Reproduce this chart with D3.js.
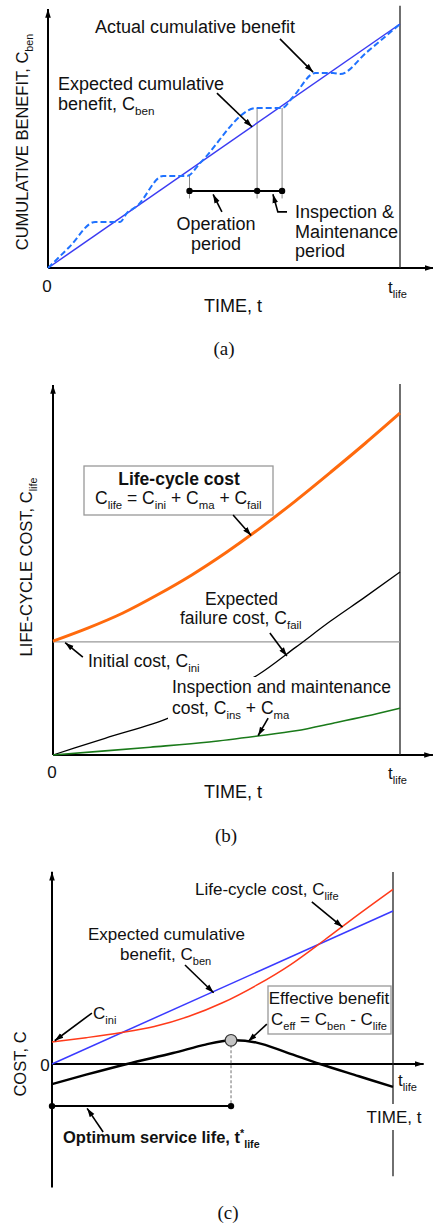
<!DOCTYPE html>
<meta charset="utf-8">
<head>
    <title>Life-cycle cost and benefit</title>
</head>
<style>
    body { margin: 0; background: #fff; }
    svg text { font-family: "Liberation Sans", Arial, sans-serif; fill: #111; }
    .axis { stroke: #000; stroke-width: 2; fill: none; }
    .tlife { stroke: #222; stroke-width: 1.3; }
    .box { fill: #fff; stroke: #999; stroke-width: 1.3; }
    .arrow { stroke: #000; stroke-width: 1.6; fill: none; }
</style>
<script src="https://d3js.org/d3.v7.min.js"></script>
<div id="chart"></div>
<script>
    // ---- panel (a): cumulative benefit ----
    var expT_a = [0, 1];
    var expV_a = [0, 1];
    var actT_a = [0, 0.06, 0.134, 0.205, 0.224, 0.253, 0.327, 0.395, 0.432, 0.594, 0.665, 0.696, 0.759, 0.81, 0.83, 0.906, 1];
    var actV_a = [0, 0.085, 0.189, 0.189, 0.225, 0.254, 0.377, 0.377, 0.430, 0.656, 0.656, 0.701, 0.799, 0.799, 0.795, 0.885, 1];
    // operation period end of plateau 2 -> start of plateau 3, I&M = plateau 3
    var periodT_a = [0.402, 0.594, 0.665];

    // ---- panel (b): life-cycle cost ----
    var lifeT_b = [0, 0.1, 0.2, 0.3, 0.4, 0.5, 0.6, 0.7, 0.8, 0.9, 1];
    var lifeV_b = [0.306, 0.341, 0.381, 0.430, 0.484, 0.545, 0.612, 0.684, 0.760, 0.838, 0.919];
    var failT_b = [0, 0.15, 0.34, 0.46, 0.59, 0.7, 0.8, 0.9, 1];
    var failV_b = [0, 0.045, 0.102, 0.155, 0.215, 0.29, 0.36, 0.425, 0.492];
    var insT_b = [0, 0.15, 0.28, 0.45, 0.59, 0.7, 0.81, 0.9, 1];
    var insV_b = [0, 0.011, 0.021, 0.035, 0.051, 0.065, 0.086, 0.104, 0.126];
    var iniV_b = 0.304;

    // ---- panel (c): effective benefit ----
    var benT_c = [0, 1];
    var benV_c = [0, 1];
    var lifeT_c = [0, 0.1, 0.2, 0.3, 0.4, 0.5, 0.6, 0.7, 0.8, 0.9, 1];
    var lifeV_c = [0.144, 0.172, 0.204, 0.245, 0.31, 0.40, 0.515, 0.65, 0.812, 0.98, 1.142];
    var effT_c = [0, 0.1, 0.22, 0.355, 0.45, 0.525, 0.6, 0.689, 0.786, 0.9, 1];
    var effV_c = [-0.131, -0.07, 0, 0.072, 0.127, 0.155, 0.14, 0.075, 0, -0.08, -0.15];
    var optT_c = 0.525;
    var optV_c = 0.155;

    var svg = d3.select("#chart").append("svg")
        .attr("width", 433)
        .attr("height", 1224);

    // arrowhead marker
    svg.append("defs").append("marker")
        .attr("id", "head")
        .attr("markerUnits", "userSpaceOnUse")
        .attr("viewBox", "0 -4 10 8")
        .attr("refX", 10).attr("refY", 0)
        .attr("markerWidth", 9).attr("markerHeight", 7)
        .attr("orient", "auto")
        .append("path").attr("d", "M0,-3.2L10,0L0,3.2Z").attr("fill", "#000");

    function zip(ts, vs) { return ts.map(function (t, i) { return [t, vs[i]]; }); }

    // text with sub / superscripts: parts are strings or [text, "sub"|"sup"]
    function rich(g, x, y, parts, size, anchor, weight) {
        var t = g.append("text")
            .attr("x", x).attr("y", y)
            .attr("font-size", size)
            .attr("text-anchor", anchor || "start")
            .attr("font-weight", weight || "normal");
        var cur = 0;
        parts.forEach(function (p) {
            var kind = Array.isArray(p) ? p[1] : null;
            var txt = Array.isArray(p) ? p[0] : p;
            var target = kind == "sub" ? size * 0.28 : (kind == "sup" ? -size * 0.35 : 0);
            var ts = t.append("tspan").text(txt);
            if (kind) ts.attr("font-size", size * 0.65);
            if (target != cur) { ts.attr("dy", target - cur); cur = target; }
        });
        return t;
    }

    function arrow(g, x, y, pts) {
        g.append("path")
            .attr("class", "arrow")
            .attr("d", d3.line().x(function (d) { return x(d[0]); }).y(function (d) { return y(d[1]); })(pts))
            .attr("marker-end", "url(#head)");
    }

    function frame(g, x, y, yTop, yBottom, xEnd, lifeTop, lifeBottom) {
        // y axis with arrow
        g.append("line").attr("class", "axis")
            .attr("x1", x(0)).attr("x2", x(0))
            .attr("y1", y(yBottom)).attr("y2", y(yTop) + 2)
            .attr("marker-end", "url(#head)");
        // x axis with arrow
        g.append("line").attr("class", "axis")
            .attr("x1", x(0)).attr("x2", x(xEnd))
            .attr("y1", y(0)).attr("y2", y(0))
            .attr("marker-end", "url(#head)");
        // t_life line
        g.append("line").attr("class", "tlife")
            .attr("x1", x(1)).attr("x2", x(1))
            .attr("y1", y(lifeTop)).attr("y2", y(lifeBottom));
    }

    // ================= (a) =================
    var xA = d3.scaleLinear().domain([0, 1]).range([48, 400]);
    var yA = d3.scaleLinear().domain([0, 1]).range([268, 24]);
    var gA = svg.append("g");
    var lineA = d3.line().x(function (d) { return xA(d[0]); }).y(function (d) { return yA(d[1]); });

    frame(gA, xA, yA, 1.07, 0, 1.095, 1.075, 0);

    // operation / I&M period guides
    var brV = 0.316;
    periodT_a.forEach(function (t, i) {
        var top = i == 0 ? 0.377 : 0.656;
        gA.append("line").attr("stroke", "#888").attr("stroke-width", 1)
            .attr("x1", xA(t)).attr("x2", xA(t))
            .attr("y1", yA(top)).attr("y2", yA(0.285));
    });
    gA.append("line").attr("stroke", "#000").attr("stroke-width", 2)
        .attr("x1", xA(periodT_a[0])).attr("x2", xA(periodT_a[2]))
        .attr("y1", yA(brV)).attr("y2", yA(brV));
    gA.selectAll(".dotA").data(periodT_a).enter().append("circle")
        .attr("cx", function (d) { return xA(d); })
        .attr("cy", yA(brV)).attr("r", 3.2).attr("fill", "#000");

    gA.append("path").datum(zip(expT_a, expV_a))
        .attr("d", lineA).attr("fill", "none")
        .attr("stroke", "#3b3bf2").attr("stroke-width", 1.5);
    gA.append("path").datum(zip(actT_a, actV_a))
        .attr("d", lineA.curve(d3.curveMonotoneX)).attr("fill", "none")
        .attr("stroke", "#1f72ff").attr("stroke-width", 2)
        .attr("stroke-dasharray", "6,3");

    rich(gA, 95, 33, ["Actual cumulative benefit"], 18);
    arrow(gA, xA, yA, [[0.659, 0.939], [0.753, 0.803]]);
    rich(gA, 58, 90, ["Expected cumulative"], 18);
    rich(gA, 58, 110, ["benefit, C", ["ben", "sub"]], 18);
    arrow(gA, xA, yA, [[0.48, 0.717], [0.58, 0.578]]);
    rich(gA, 216, 230, ["Operation"], 18, "middle");
    rich(gA, 216, 250, ["period"], 18, "middle");
    arrow(gA, xA, yA, [[0.494, 0.23], [0.469, 0.302]]);
    rich(gA, 295, 218, ["Inspection &"], 18);
    rich(gA, 295, 238, ["Maintenance"], 18);
    rich(gA, 295, 257, ["period"], 18);
    arrow(gA, xA, yA, [[0.679, 0.23], [0.653, 0.23], [0.639, 0.302]]);

    rich(gA, 47, 292, ["0"], 17, "middle");
    rich(gA, 388, 293, ["t", ["life", "sub"]], 17);
    rich(gA, 233, 312, ["TIME, t"], 18, "middle");
    rich(gA.append("g").attr("transform", "translate(28,142) rotate(-90)"), 0, 0,
        ["CUMULATIVE BENEFIT, C", ["ben", "sub"]], 16.5, "middle");
    gA.append("text").attr("x", 224).attr("y", 355).attr("text-anchor", "middle")
        .attr("font-size", 19).style("font-family", "'Liberation Serif', 'Times New Roman', serif")
        .text("(a)");

    // ================= (b) =================
    var xB = d3.scaleLinear().domain([0, 1]).range([53, 400]);
    var yB = d3.scaleLinear().domain([0, 1]).range([755, 383]);
    var gB = svg.append("g");
    var lineB = d3.line().x(function (d) { return xB(d[0]); }).y(function (d) { return yB(d[1]); })
        .curve(d3.curveMonotoneX);

    frame(gB, xB, yB, 1.0, 0, 1.095, 0.997, 0);

    gB.append("line").attr("stroke", "#999").attr("stroke-width", 1.2)
        .attr("x1", xB(0)).attr("x2", xB(1))
        .attr("y1", yB(iniV_b)).attr("y2", yB(iniV_b));
    gB.append("path").datum(zip(failT_b, failV_b))
        .attr("d", lineB).attr("fill", "none")
        .attr("stroke", "#000").attr("stroke-width", 1.3);
    gB.append("path").datum(zip(insT_b, insV_b))
        .attr("d", lineB).attr("fill", "none")
        .attr("stroke", "#1a7a1a").attr("stroke-width", 1.6);
    gB.append("path").datum(zip(lifeT_b, lifeV_b))
        .attr("d", lineB).attr("fill", "none")
        .attr("stroke", "#ff6a0d").attr("stroke-width", 3);

    // label box
    gB.append("rect").attr("class", "box")
        .attr("x", 84).attr("y", 466).attr("width", 189).attr("height", 49);
    rich(gB, 179, 485, ["Life-cycle cost"], 17.5, "middle", "bold");
    rich(gB, 95, 504, ["C", ["life", "sub"], " = C", ["ini", "sub"], " + C", ["ma", "sub"], " + C", ["fail", "sub"]], 17.5);
    arrow(gB, xB, yB, [[0.519, 0.645], [0.571, 0.59]]);

    rich(gB, 205, 605, ["Expected"], 17.5);
    rich(gB, 180, 624, ["failure cost, C", ["fail", "sub"]], 17.5);
    arrow(gB, xB, yB, [[0.625, 0.328], [0.674, 0.266]]);

    rich(gB, 88, 667, ["Initial cost, C", ["ini", "sub"]], 17.5);
    arrow(gB, xB, yB, [[0.086, 0.263], [0.035, 0.302]]);

    // gap in the failure-cost line behind its label
    gB.append("rect").attr("fill", "#fff")
        .attr("x", 168).attr("y", 677).attr("width", 92).attr("height", 44);
    rich(gB, 172, 693, ["Inspection and maintenance"], 17.5);
    rich(gB, 172, 714, ["cost, C", ["ins", "sub"], " + C", ["ma", "sub"]], 17.5);
    arrow(gB, xB, yB, [[0.62, 0.099], [0.591, 0.052]]);

    rich(gB, 52, 778, ["0"], 17, "middle");
    rich(gB, 388, 779, ["t", ["life", "sub"]], 17);
    rich(gB, 233, 798, ["TIME, t"], 18, "middle");
    rich(gB.append("g").attr("transform", "translate(32,567) rotate(-90)"), 0, 0,
        ["LIFE-CYCLE COST, C", ["life", "sub"]], 16.5, "middle");
    gB.append("text").attr("x", 226).attr("y", 842).attr("text-anchor", "middle")
        .attr("font-size", 19).style("font-family", "'Liberation Serif', 'Times New Roman', serif")
        .text("(b)");

    // ================= (c) =================
    var xC = d3.scaleLinear().domain([0, 1]).range([52, 393]);
    var yC = d3.scaleLinear().domain([0, 1]).range([1064, 911]);
    var gC = svg.append("g");
    var lineC = d3.line().x(function (d) { return xC(d[0]); }).y(function (d) { return yC(d[1]); })
        .curve(d3.curveMonotoneX);

    frame(gC, xC, yC, 1.27, -0.807, 1.09, 1.255, -0.733);
    gC.select(".tlife").attr("stroke-width", 1.1);

    gC.append("path").datum(zip(benT_c, benV_c))
        .attr("d", lineC).attr("fill", "none")
        .attr("stroke", "#3a3aff").attr("stroke-width", 1.5);
    gC.append("path").datum(zip(lifeT_c, lifeV_c))
        .attr("d", lineC).attr("fill", "none")
        .attr("stroke", "#ff3a1a").attr("stroke-width", 1.5);
    gC.append("path").datum(zip(effT_c, effV_c))
        .attr("d", d3.line().x(function (d) { return xC(d[0]); }).y(function (d) { return yC(d[1]); })
            .curve(d3.curveCatmullRom)).attr("fill", "none")
        .attr("stroke", "#000").attr("stroke-width", 2.4);

    // optimum service life
    var brC = -0.275;
    gC.append("line").attr("stroke", "#888").attr("stroke-width", 1.2)
        .attr("stroke-dasharray", "3,2")
        .attr("x1", xC(optT_c)).attr("x2", xC(optT_c))
        .attr("y1", yC(optV_c)).attr("y2", yC(brC));
    gC.append("line").attr("stroke", "#000").attr("stroke-width", 2)
        .attr("x1", xC(0)).attr("x2", xC(optT_c))
        .attr("y1", yC(brC)).attr("y2", yC(brC));
    gC.selectAll(".dotC").data([0, optT_c]).enter().append("circle")
        .attr("cx", function (d) { return xC(d); })
        .attr("cy", yC(brC)).attr("r", 3.2).attr("fill", "#000");
    gC.append("circle")
        .attr("cx", xC(optT_c)).attr("cy", yC(optV_c)).attr("r", 5.8)
        .attr("fill", "#c4c4c4").attr("stroke", "#333").attr("stroke-width", 1.2);

    rich(gC, 195, 895, ["Life-cycle cost, C", ["life", "sub"]], 17);
    arrow(gC, xC, yC, [[0.762, 1.059], [0.852, 0.895]]);
    rich(gC, 88, 940, ["Expected cumulative"], 17);
    rich(gC, 120, 960, ["benefit, C", ["ben", "sub"]], 17);
    arrow(gC, xC, yC, [[0.39, 0.647], [0.474, 0.466]]);
    rich(gC, 93, 1019, ["C", ["ini", "sub"]], 17);
    arrow(gC, xC, yC, [[0.117, 0.333], [0.008, 0.152]]);

    gC.append("rect").attr("class", "box")
        .attr("x", 268).attr("y", 986).attr("width", 123).attr("height", 48);
    rich(gC, 329, 1004, ["Effective benefit"], 17, "middle");
    rich(gC, 329, 1025, ["C", ["eff", "sub"], " = C", ["ben", "sub"], " - C", ["life", "sub"]], 17, "middle");
    arrow(gC, xC, yC, [[0.63, 0.261], [0.575, 0.147]]);

    rich(gC, 63, 1143, ["Optimum service life, t", ["*", "sup"], ["life", "sub"]], 16.5, "start", "bold");
    arrow(gC, xC, yC, [[0.15, -0.444], [0.103, -0.29]]);

    rich(gC, 45, 1071, ["0"], 17, "middle");
    rich(gC, 398, 1086, ["t", ["life", "sub"]], 17);
    gC.append("rect").attr("fill", "#fff")
        .attr("x", 364).attr("y", 1104).attr("width", 60).attr("height", 26);
    rich(gC, 394, 1123, ["TIME, t"], 17, "middle");
    rich(gC.append("g").attr("transform", "translate(26,1064) rotate(-90)"), 0, 0,
        ["COST, C"], 16.5, "middle");
    gC.append("text").attr("x", 228).attr("y", 1219).attr("text-anchor", "middle")
        .attr("font-size", 19).style("font-family", "'Liberation Serif', 'Times New Roman', serif")
        .text("(c)");
</script>
